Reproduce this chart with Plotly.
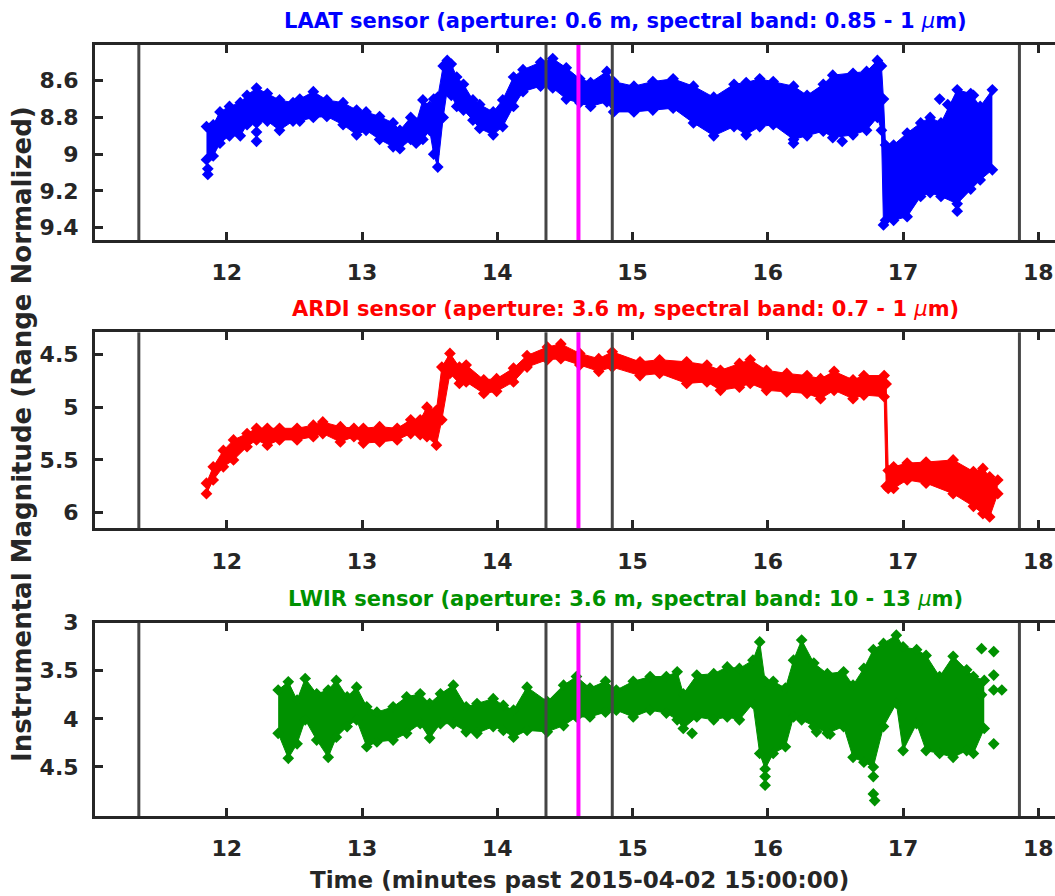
import plotly.graph_objects as go

# ---------------- data ----------------
# LAAT (blue) band: time, upper edge (smaller magnitude), lower edge
laat_t = [11.85, 11.90, 11.95, 12.02, 12.10, 12.15, 12.22, 12.30, 12.39, 12.49,
          12.54, 12.64, 12.74, 12.86, 12.96, 13.03, 13.13, 13.23, 13.28, 13.36,
          13.40, 13.45, 13.50, 13.53, 13.56, 13.60, 13.63, 13.66, 13.70, 13.75,
          13.82, 13.87, 13.97, 14.04, 14.12, 14.19, 14.32, 14.41, 14.51, 14.61,
          14.69, 14.81, 14.86, 15.01, 15.15, 15.30, 15.45, 15.60, 15.75, 15.84,
          15.94, 16.04, 16.19, 16.29, 16.41, 16.48, 16.63, 16.73, 16.81, 16.84,
          16.855, 16.87, 16.93, 17.03, 17.13, 17.20, 17.28, 17.40, 17.50, 17.57,
          17.66]
laat_top = [8.85, 8.84, 8.77, 8.74, 8.72, 8.68, 8.64, 8.67, 8.705, 8.72,
            8.70, 8.66, 8.705, 8.72, 8.76, 8.77, 8.795, 8.83, 8.87, 8.80,
            8.83, 8.705, 8.74, 8.70, 8.69, 8.52, 8.49, 8.51, 8.58, 8.62,
            8.705, 8.73, 8.77, 8.705, 8.58, 8.54, 8.50, 8.48, 8.53, 8.59,
            8.61, 8.55, 8.605, 8.63, 8.605, 8.59, 8.63, 8.69, 8.62, 8.61,
            8.59, 8.605, 8.63, 8.68, 8.62, 8.57, 8.56, 8.55, 8.49, 8.52,
            8.70, 8.95, 8.95, 8.885, 8.83, 8.80, 8.83, 8.65, 8.67, 8.74,
            8.65]
laat_bot = [9.03, 9.01, 8.94, 8.90, 8.90, 8.84, 8.83, 8.82, 8.87, 8.82,
            8.82, 8.80, 8.795, 8.84, 8.895, 8.87, 8.92, 8.96, 8.97, 8.92,
            8.94, 8.92, 8.87, 9.00, 9.07, 8.80, 8.65, 8.68, 8.74, 8.76,
            8.815, 8.86, 8.895, 8.85, 8.74, 8.66, 8.63, 8.64, 8.70, 8.72,
            8.74, 8.715, 8.77, 8.77, 8.76, 8.75, 8.83, 8.90, 8.85, 8.895,
            8.85, 8.84, 8.92, 8.90, 8.875, 8.91, 8.895, 8.87, 8.80, 8.87,
            9.385, 9.36, 9.36, 9.34, 9.23, 9.21, 9.23, 9.27, 9.19, 9.14,
            9.085]
laat_out_t = [11.86, 11.86, 12.22, 12.22, 16.19, 16.55, 17.27, 17.40, 17.33, 17.52]
laat_out_v = [9.08, 9.11, 8.88, 8.93, 8.94, 8.93, 8.70, 9.31, 8.73, 8.68]

# ARDI (red) band
ardi_t = [11.85, 11.90, 11.975, 12.05, 12.15, 12.22, 12.30, 12.39, 12.52, 12.64,
          12.71, 12.84, 12.94, 13.01, 13.13, 13.26, 13.36, 13.43, 13.48, 13.55,
          13.59, 13.65, 13.72, 13.77, 13.90, 13.995, 14.12, 14.22, 14.37, 14.47,
          14.61, 14.75, 14.85, 15.055, 15.20, 15.40, 15.55, 15.65, 15.79, 15.87,
          15.99, 16.14, 16.29, 16.39, 16.49, 16.63, 16.71, 16.86, 16.875, 16.89,
          16.93, 17.03, 17.17, 17.37, 17.52, 17.59, 17.64, 17.70]
ardi_top = [5.72, 5.565, 5.41, 5.31, 5.25, 5.20, 5.20, 5.20, 5.20, 5.17,
            5.14, 5.185, 5.20, 5.20, 5.185, 5.20, 5.12, 5.12, 5.00, 5.03,
            4.62, 4.49, 4.62, 4.60, 4.74, 4.73, 4.63, 4.51, 4.43, 4.40,
            4.49, 4.54, 4.475, 4.57, 4.55, 4.57, 4.60, 4.65, 4.585, 4.55,
            4.65, 4.68, 4.70, 4.73, 4.66, 4.74, 4.70, 4.70, 4.78, 5.60,
            5.565, 5.53, 5.52, 5.50, 5.61, 5.58, 5.66, 5.69]
ardi_bot = [5.82, 5.69, 5.565, 5.50, 5.375, 5.31, 5.36, 5.31, 5.31, 5.28,
            5.25, 5.33, 5.28, 5.34, 5.33, 5.31, 5.25, 5.26, 5.28, 5.36,
            5.12, 4.68, 4.775, 4.76, 4.87, 4.85, 4.76, 4.62, 4.55, 4.54,
            4.60, 4.66, 4.62, 4.70, 4.68, 4.775, 4.76, 4.84, 4.81, 4.775,
            4.84, 4.855, 4.87, 4.92, 4.84, 4.92, 4.885, 4.90, 5.75, 5.77,
            5.77, 5.69, 5.72, 5.82, 5.94, 6.01, 6.04, 5.82]

# LWIR (green) band
lwir_t = [12.38, 12.455, 12.52, 12.58, 12.665, 12.75, 12.81, 12.89, 12.96, 13.035,
          13.11, 13.23, 13.33, 13.43, 13.50, 13.58, 13.675, 13.77, 13.85, 13.97,
          14.045, 14.12, 14.22, 14.37, 14.49, 14.585, 14.685, 14.80, 14.88, 15.005,
          15.13, 15.25, 15.33, 15.375, 15.475, 15.60, 15.70, 15.79, 15.89, 15.94,
          15.98, 16.04, 16.13, 16.19, 16.25, 16.34, 16.44, 16.56, 16.63, 16.71,
          16.78, 16.855, 16.95, 17.00, 17.10, 17.17, 17.27, 17.37, 17.47, 17.52,
          17.60]
lwir_top = [3.70, 3.615, 3.805, 3.58, 3.74, 3.70, 3.60, 3.77, 3.67, 3.875,
            3.93, 3.875, 3.77, 3.74, 3.84, 3.74, 3.65, 3.875, 3.84, 3.79,
            3.86, 3.91, 3.67, 3.82, 3.65, 3.56, 3.68, 3.61, 3.70, 3.61,
            3.56, 3.56, 3.51, 3.74, 3.545, 3.53, 3.46, 3.475, 3.39, 3.20,
            3.61, 3.61, 3.68, 3.39, 3.18, 3.42, 3.53, 3.51, 3.65, 3.475,
            3.28, 3.215, 3.13, 3.25, 3.28, 3.34, 3.56, 3.35, 3.49, 3.56,
            3.60]
lwir_bot = [4.15, 4.41, 4.26, 4.01, 4.22, 4.40, 4.19, 4.08, 4.01, 4.29,
            4.24, 4.22, 4.15, 4.05, 4.20, 4.05, 4.05, 4.135, 4.15, 4.08,
            4.12, 4.19, 4.12, 4.135, 4.07, 3.98, 3.98, 3.93, 3.91, 3.98,
            3.91, 3.94, 4.01, 4.10, 3.98, 4.01, 3.98, 4.01, 3.84, 4.36,
            4.52, 4.36, 4.29, 3.98, 4.01, 4.08, 4.15, 4.08, 4.40, 4.45,
            4.50, 4.08, 3.84, 4.33, 4.05, 4.33, 4.36, 4.40, 4.33, 4.36,
            4.10]
lwir_out_t = [15.98, 15.98, 16.36, 16.46, 16.78, 16.78, 16.79, 17.58, 17.58, 17.67,
              17.67, 17.67, 17.67, 17.73, 15.44]
lwir_out_v = [4.60, 4.69, 4.135, 4.16, 4.60, 4.78, 4.85, 3.27, 3.75, 3.30,
              3.545, 3.70, 4.26, 3.70, 4.15]

# reference time markers
gray_lines_t = [11.35, 14.36, 14.85, 17.86]
magenta_line_t = 14.6

x_ticks = [12, 13, 14, 15, 16, 17, 18]
laat_yticks = [8.6, 8.8, 9.0, 9.2, 9.4]
laat_ylabels = ["8.6", "8.8", "9", "9.2", "9.4"]
ardi_yticks = [4.5, 5.0, 5.5, 6.0]
ardi_ylabels = ["4.5", "5", "5.5", "6"]
lwir_yticks = [3.0, 3.5, 4.0, 4.5]
lwir_ylabels = ["3", "3.5", "4", "4.5"]

titles = [
    "LAAT sensor (aperture: 0.6 m, spectral band: 0.85 - 1 <span style='font-weight:normal'><i>μ</i></span>m)",
    "ARDI sensor (aperture: 3.6 m, spectral band: 0.7 - 1 <span style='font-weight:normal'><i>μ</i></span>m)",
    "LWIR sensor (aperture: 3.6 m, spectral band: 10 - 13 <span style='font-weight:normal'><i>μ</i></span>m)",
]
colors = ["#0000FF", "#FF0000", "#009100"]

# ---------------- figure ----------------
W, H = 1055, 896
ML, MT, MB = 95, 45, 80
PH = H - MT - MB


def py2paper(py):
    return (H - MB - py) / PH


domains = [
    [py2paper(240), py2paper(45)],
    [py2paper(528.3), py2paper(332.3)],
    [py2paper(816), py2paper(622.7)],
]
yranges = [[9.467, 8.406], [6.148, 4.29], [5.01, 3.0]]
yticks = [(laat_yticks, laat_ylabels), (ardi_yticks, ardi_ylabels), (lwir_yticks, lwir_ylabels)]
series = [
    (laat_t, laat_top, laat_bot, laat_out_t, laat_out_v),
    (ardi_t, ardi_top, ardi_bot, [], []),
    (lwir_t, lwir_top, lwir_bot, lwir_out_t, lwir_out_v),
]

AX = "#262626"
FONT = "DejaVu Sans"
fig = go.Figure()

for i, (t, top, bot, ot, ov) in enumerate(series):
    xa = "x" if i == 0 else f"x{i+1}"
    ya = "y" if i == 0 else f"y{i+1}"
    c = colors[i]
    mk = dict(symbol="diamond", size=9, color=c, line=dict(width=0))
    fig.add_trace(go.Scatter(x=t, y=top, mode="lines+markers", marker=mk,
                             line=dict(color=c, width=1), xaxis=xa, yaxis=ya,
                             showlegend=False, hoverinfo="skip"))
    fig.add_trace(go.Scatter(x=t, y=bot, mode="lines+markers", marker=mk,
                             line=dict(color=c, width=1), fill="tonexty", fillcolor=c,
                             xaxis=xa, yaxis=ya, showlegend=False, hoverinfo="skip"))
    if ot:
        fig.add_trace(go.Scatter(x=ot, y=ov, mode="markers", marker=mk,
                                 xaxis=xa, yaxis=ya, showlegend=False, hoverinfo="skip"))

layout = dict(
    width=W, height=H,
    margin=dict(l=ML, r=0, t=MT, b=MB),
    paper_bgcolor="white", plot_bgcolor="white",
    showlegend=False,
)

tickfont = dict(family=FONT, size=22, color=AX, weight="bold")
for i in range(3):
    xk = "xaxis" if i == 0 else f"xaxis{i+1}"
    yk = "yaxis" if i == 0 else f"yaxis{i+1}"
    ya = "y" if i == 0 else f"y{i+1}"
    xa = "x" if i == 0 else f"x{i+1}"
    layout[xk] = dict(
        domain=[0, 1], anchor=ya, range=[11.026, 18.123],
        tickvals=x_ticks, ticktext=[str(v) for v in x_ticks],
        ticks="inside", ticklen=8, tickwidth=3, tickcolor=AX,
        showline=True, linewidth=3, linecolor=AX, mirror="ticks",
        showgrid=False, zeroline=False, tickfont=tickfont,
        ticklabelstandoff=11,
    )
    tv, tt = yticks[i]
    layout[yk] = dict(
        domain=domains[i], anchor=xa, range=yranges[i],
        tickvals=tv, ticktext=tt,
        ticks="inside", ticklen=8, tickwidth=3, tickcolor=AX,
        showline=True, linewidth=3, linecolor=AX, mirror=False,
        showgrid=False, zeroline=False, tickfont=tickfont,
        ticklabelstandoff=9,
    )
    # right-side tick marks (frame continues past the window)
    rk = f"yaxis{i+4}"
    layout[rk] = dict(
        domain=domains[i], anchor=xa, overlaying=ya, side="right",
        range=yranges[i], tickvals=tv, showticklabels=False,
        ticks="inside", ticklen=8, tickwidth=3, tickcolor=AX,
        showline=False, showgrid=False, zeroline=False,
    )

shapes = []
for i in range(3):
    xa = "x" if i == 0 else f"x{i+1}"
    ydom = "y domain" if i == 0 else f"y{i+1} domain"
    for tl in gray_lines_t:
        shapes.append(dict(type="line", xref=xa, yref=ydom, x0=tl, x1=tl, y0=0, y1=1,
                           line=dict(color="#454545", width=3), layer="above"))
    shapes.append(dict(type="line", xref=xa, yref=ydom, x0=magenta_line_t, x1=magenta_line_t,
                       y0=0, y1=1, line=dict(color="#FF00FF", width=4), layer="above"))
layout["shapes"] = shapes

title_y = [21, 309, 599]
annotations = []
for i in range(3):
    annotations.append(dict(
        text=titles[i], xref="paper", yref="paper",
        x=(625 - ML) / (W - ML), y=py2paper(title_y[i]),
        xanchor="center", yanchor="middle", showarrow=False,
        font=dict(family=FONT, size=21, color=colors[i], weight="bold"),
    ))
annotations.append(dict(
    text="Time (minutes past 2015-04-02 15:00:00)", xref="paper", yref="paper",
    x=(579 - ML) / (W - ML), y=py2paper(880), xanchor="center", yanchor="middle",
    showarrow=False, font=dict(family=FONT, size=23, color=AX, weight="bold"),
))
annotations.append(dict(
    text="Instrumental Magnitude (Range Normalized)", xref="paper", yref="paper",
    x=(22 - ML) / (W - ML), y=py2paper(434), xanchor="center", yanchor="middle",
    textangle=-90, showarrow=False,
    font=dict(family=FONT, size=26, color=AX, weight="bold"),
))
layout["annotations"] = annotations

fig.update_layout(**layout)
fig.write_html("out.html")
